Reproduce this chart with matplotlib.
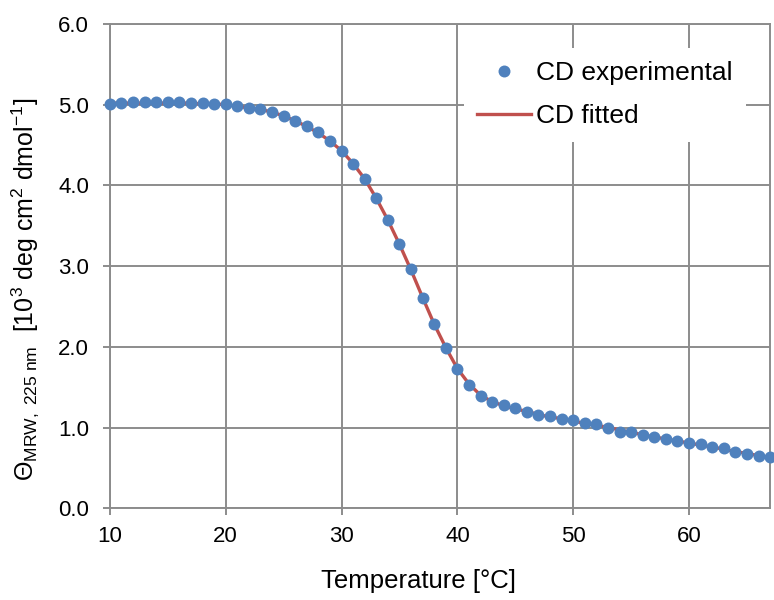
import matplotlib
matplotlib.use("Agg")
import matplotlib.pyplot as plt
import numpy as np

plt.rcParams['font.family'] = ['Liberation Sans', 'DejaVu Sans']
plt.rcParams['mathtext.fontset'] = 'custom'
plt.rcParams['mathtext.rm'] = 'Liberation Sans'
plt.rcParams['mathtext.it'] = 'Liberation Sans:italic'

# temperatura [°C] in izmerjene vrednosti CD
temp = list(range(10, 68))
cd_exp = [5.01, 5.02, 5.03, 5.03, 5.03, 5.03, 5.03, 5.02, 5.02, 5.01,
          5.01, 4.98, 4.96, 4.95, 4.91, 4.86, 4.80, 4.74, 4.66, 4.55,
          4.43, 4.27, 4.08, 3.84, 3.57, 3.28, 2.96, 2.60, 2.28, 1.99,
          1.72, 1.53, 1.39, 1.32, 1.28, 1.24, 1.19, 1.16, 1.14, 1.11,
          1.09, 1.06, 1.04, 0.99, 0.95, 0.94, 0.91, 0.88, 0.86, 0.83,
          0.81, 0.79, 0.76, 0.74, 0.70, 0.67, 0.65, 0.63]
cd_fit = [5.02, 5.02, 5.02, 5.02, 5.02, 5.02, 5.02, 5.02, 5.01, 5.01,
          5.00, 4.98, 4.96, 4.94, 4.91, 4.86, 4.80, 4.73, 4.65, 4.55,
          4.43, 4.27, 4.08, 3.84, 3.57, 3.27, 2.95, 2.61, 2.28, 1.99,
          1.73, 1.54, 1.40, 1.32, 1.27, 1.23, 1.20, 1.16, 1.13, 1.11,
          1.08, 1.05, 1.03, 1.00, 0.97, 0.94, 0.91, 0.88, 0.86, 0.83,
          0.81, 0.78, 0.76, 0.73, 0.70, 0.68, 0.65, 0.63]
xticks = [10, 20, 30, 40, 50, 60]
yticks = [0.0, 1.0, 2.0, 3.0, 4.0, 5.0, 6.0]

grid_c = '#8c8c8c'

fig = plt.figure(figsize=(7.74, 6.0), dpi=100)
ax = fig.add_axes([0.142, 0.153, 0.853, 0.807])

ax.plot(temp, cd_fit, '-', color='#C0504D', lw=2.4, label='CD fitted', zorder=3)
ax.plot(temp, cd_exp, 'o', color='#4F81BD', ms=8.6, mec='none', label='CD experimental',
        zorder=4, clip_on=False)

ax.set_xlim(10, 67)
ax.set_ylim(0, 6)
ax.set_xticks(xticks)
ax.set_yticks(yticks)
ax.set_yticklabels(['%.1f' % v for v in yticks])
ax.grid(True, color=grid_c, lw=1.4)
ax.set_axisbelow(True)
for s in ax.spines.values():
    s.set_color(grid_c)
    s.set_linewidth(1.4)
ax.tick_params(axis='both', direction='out', length=5, width=1.4, color=grid_c,
               labelsize=16)
ax.tick_params(axis='x', pad=8)
ax.tick_params(axis='y', pad=10)

ax.set_xlabel('Temperature [°C]', fontsize=18.5)
ax.xaxis.set_label_coords(0.468, -0.126)
ax.set_ylabel(r'$\Theta_{\mathrm{MRW,\ 225\ nm}}$  [10$^{3}$ deg cm$^{2}$ dmol$^{-1}$]',
              fontsize=18)
ax.yaxis.set_label_coords(-0.104, 0.452)

h, l = ax.get_legend_handles_labels()
leg = ax.legend(h[::-1], l[::-1], loc='upper left', bbox_to_anchor=(0.536, 0.95),
                fontsize=19, frameon=True, fancybox=False, handlelength=2.05,
                handletextpad=0.2, borderpad=0.5, labelspacing=0.72, borderaxespad=0)
leg.get_frame().set_edgecolor('none')
leg.get_frame().set_facecolor('white')
leg.get_frame().set_alpha(1.0)

fig.savefig('out.png', dpi=100)
